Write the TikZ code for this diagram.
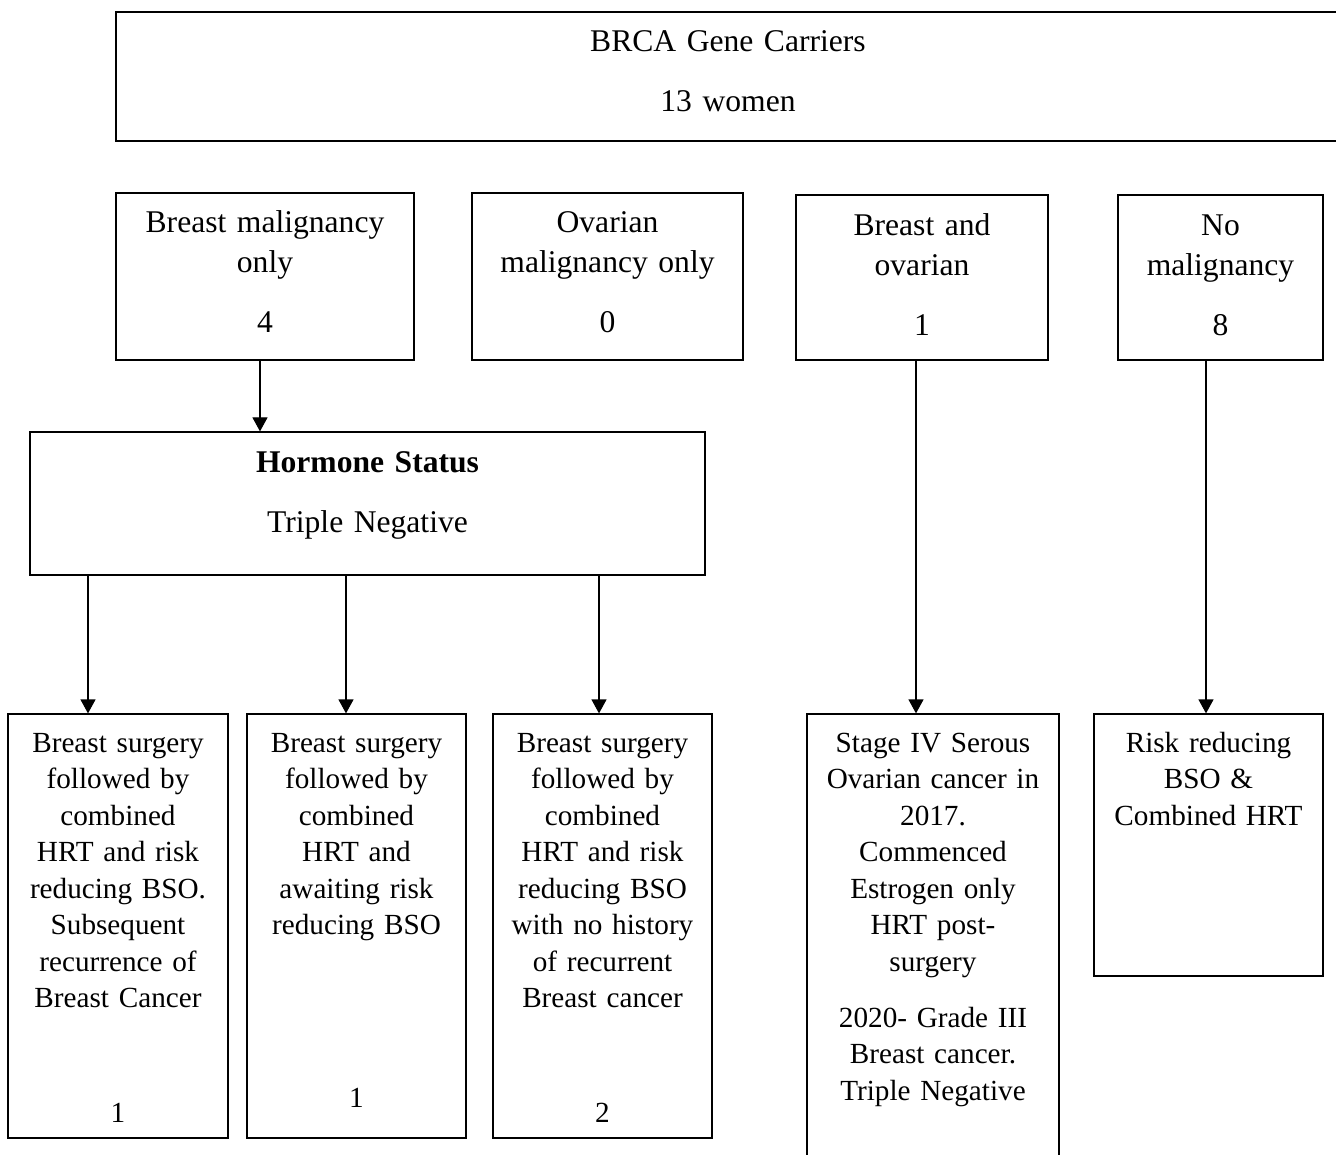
\documentclass[tikz,border=0pt]{standalone}
\usepackage{fontspec}
\setmainfont{Liberation Serif}
\usetikzlibrary{arrows.meta}
\begin{document}
\begin{tikzpicture}[x=1pt,y=-1pt,
  box/.style={draw=black, line width=1.2pt, inner sep=0pt},
  big/.style={anchor=base, inner sep=0pt, text width=330pt, align=center, font=\fontsize{31.6}{40}\selectfont},
  small/.style={anchor=base, inner sep=0pt, text width=260pt, align=center, font=\fontsize{29.2}{36.5}\selectfont},
  arr/.style={line width=1.2pt, -{Triangle[length=14pt,width=15pt]}}]
\clip (0,0) rectangle (1336,1155);
\fill[white] (0,0) rectangle (1336,1155);

% boxes
\node[box, minimum width=1224pt, minimum height=129pt] (top) at (728,76.5) {};
\node[box, minimum width=298pt, minimum height=167pt] (bm) at (265,276.5) {};
\node[box, minimum width=271pt, minimum height=167pt] (om) at (607.5,276.5) {};
\node[box, minimum width=252pt, minimum height=165pt] (bo) at (922,277.5) {};
\node[box, minimum width=205pt, minimum height=165pt] (nm) at (1220.5,277.5) {};
\node[box, minimum width=675pt, minimum height=143pt] (hs) at (367.5,503.5) {};
\node[box, minimum width=220pt, minimum height=424pt] (b1) at (118,926) {};
\node[box, minimum width=219pt, minimum height=424pt] (b2) at (356.5,926) {};
\node[box, minimum width=219pt, minimum height=424pt] (b3) at (602.5,926) {};
\node[box, minimum width=252pt, minimum height=456pt] (b4) at (933,942) {};
\node[box, minimum width=229pt, minimum height=262pt] (b5) at (1208.5,845) {};

% texts
\node[big] (t0a) at (728,52) {BRCA Gene Carriers};
\node[big] (t0b) at (728,112) {13 women};

\node[big] (tbm) at (265,233) {Breast malignancy\\only};
\node[big] (nbm) at (265,333) {4};
\node[big] (tom) at (607.5,233) {Ovarian\\malignancy only};
\node[big] (nom) at (607.5,333) {0};
\node[big] (tbo) at (922,236) {Breast and\\ovarian};
\node[big] (nbo) at (922,336) {1};
\node[big] (tnm) at (1220.5,236) {No\\malignancy};
\node[big] (nnm) at (1220.5,336) {8};

\node[big, font=\fontsize{31.6}{40}\selectfont\bfseries] (ths) at (367.5,472) {Hormone Status};
\node[big] (ths2) at (367.5,532) {Triple Negative};

\node[small] (tb1) at (118,752) {Breast surgery\\followed by\\combined\\HRT and risk\\reducing BSO.\\Subsequent\\recurrence of\\Breast Cancer};
\node[small] (nb1) at (118,1122) {1};
\node[small] (tb2) at (356.5,752) {Breast surgery\\followed by\\combined\\HRT and\\awaiting risk\\reducing BSO};
\node[small] (nb2) at (356.5,1107) {1};
\node[small] (tb3) at (602.5,752) {Breast surgery\\followed by\\combined\\HRT and risk\\reducing BSO\\with no history\\of recurrent\\Breast cancer};
\node[small] (nb3) at (602.5,1122) {2};
\node[small] (tb4) at (933,752) {Stage IV Serous\\Ovarian cancer in\\2017.\\Commenced\\Estrogen only\\HRT post-\\surgery};
\node[small] (tb4b) at (933,1027) {2020- Grade III\\Breast cancer.\\Triple Negative};
\node[small] (tb5) at (1208.5,752) {Risk reducing\\BSO \&\\Combined HRT};

% connectors
\draw[arr] ([xshift=-5pt]bm.south) -- ([xshift=-5pt]bm.south |- hs.north);
\draw[arr] ([xshift=-30pt]b1.north |- hs.south) -- ([xshift=-30pt]b1.north);
\draw[arr] ([xshift=-10.5pt]b2.north |- hs.south) -- ([xshift=-10.5pt]b2.north);
\draw[arr] ([xshift=-3.5pt]b3.north |- hs.south) -- ([xshift=-3.5pt]b3.north);
\draw[arr] ([xshift=-6pt]bo.south) -- ([xshift=-6pt]bo.south |- b4.north);
\draw[arr] ([xshift=-2.5pt]b5.north |- nm.south) -- ([xshift=-2.5pt]b5.north);
\end{tikzpicture}
\end{document}
